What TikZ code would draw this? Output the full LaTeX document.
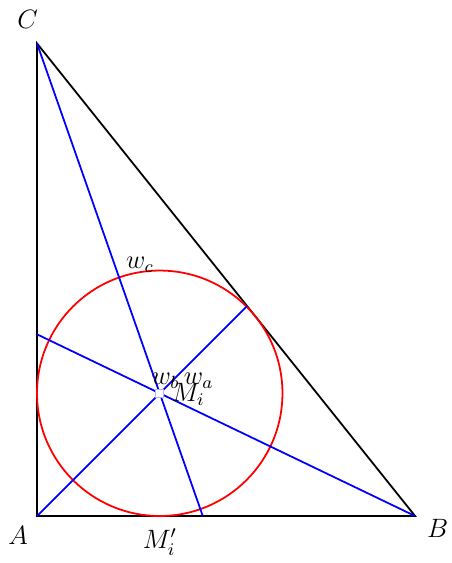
\documentclass[tikz,border=0pt]{standalone}
\usepackage{tikz}
\usetikzlibrary{positioning}
\tikzstyle{side}      = [thick, black]
\tikzstyle{bisector}  = [thick, blue]
\tikzstyle{incircle}  = [thick, red]
\tikzstyle{vertexplain} = [inner sep=1pt, outer sep=0pt, font=\fontsize{11.5pt}{14pt}\selectfont]
\tikzstyle{centermark}  = [draw=blue!30, fill=white, rectangle, minimum size=3.5pt, inner sep=0pt]

\begin{document}
\begin{tikzpicture}[scale=1.5]
\useasboundingbox (-0.3915,-0.497) rectangle (4.381,5.460);

\coordinate (A) at (0,0);
\coordinate (B) at (4,0);
\coordinate (C) at (0,5);
\coordinate (Mi) at (1.2985,1.2985);
\coordinate (Mip) at (1.2985,0);

% feet of the bisectors
\coordinate (Fa) at (2.2222,2.2222);
\coordinate (Fb) at (0,1.9225);
\coordinate (Fc) at (1.7539,0);

\draw[side] (A) -- (B) -- (C) -- cycle;

\draw[incircle] (Mi) circle (1.2985);

\draw[bisector] (A) -- (Fa);
\draw[bisector] (B) -- (Fb);
\draw[bisector] (C) -- (Fc);

\node[centermark] (MiMark) at (Mi) {};

\node[vertexplain] (LA) at (-0.20,-0.20) {$A$};
\node[vertexplain] (LB) at (4.24,-0.13) {$B$};
\node[vertexplain] (LC) at (-0.10,5.25) {$C$};

\node[vertexplain] (Lwc) at (1.09,2.656) {$w_c$};
\node[vertexplain] (Lwb) at (1.36,1.429) {$w_b$};
\node[vertexplain] (Lwa) at (1.71,1.429) {$w_a$};
\node[vertexplain] (LMi) at (1.60,1.291) {$M_i$};
\node[vertexplain] (LMip) at (1.30,-0.275) {$M_i'$};

\end{tikzpicture}
\end{document}
